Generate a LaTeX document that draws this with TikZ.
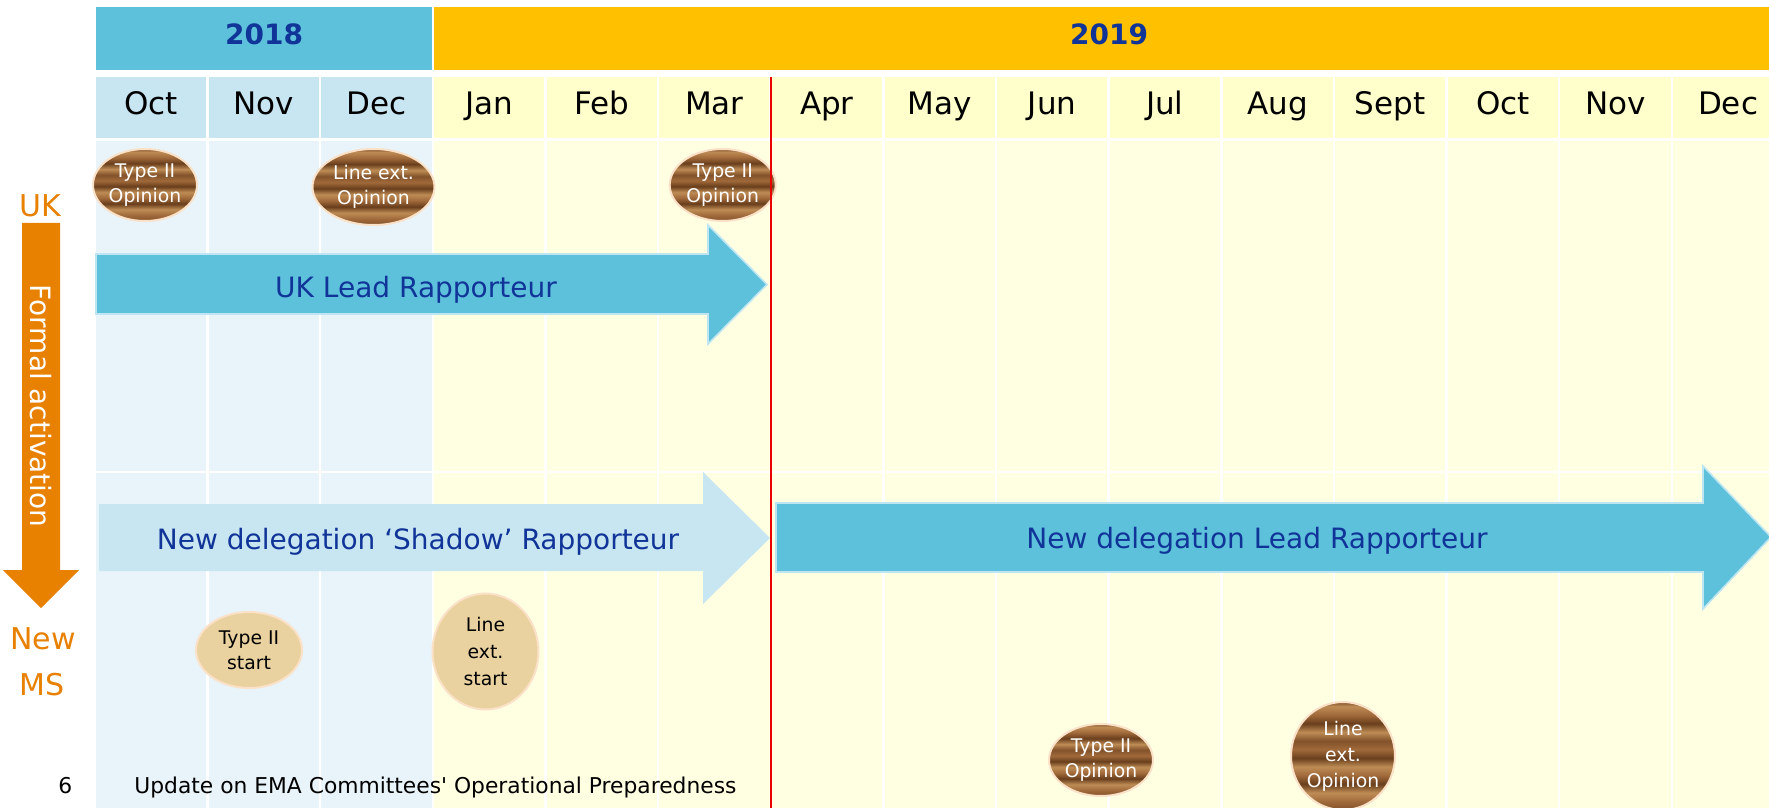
\documentclass[tikz,border=0pt]{standalone}
\usepackage{fontspec}
\setmainfont{DejaVu Sans}
\newfontfamily\footfont{DejaVu Sans}
\usetikzlibrary{shapes.geometric}
\definecolor{yearblue}{RGB}{93,193,220}
\definecolor{yearorange}{RGB}{255,192,0}
\definecolor{hdrblue}{RGB}{200,230,242}
\definecolor{hdryellow}{RGB}{255,255,204}
\definecolor{bodyblue}{RGB}{232,244,250}
\definecolor{bodyyellow}{RGB}{255,255,226}
\definecolor{textblue}{RGB}{16,52,152}
\definecolor{sideorange}{RGB}{232,128,0}
\definecolor{arrowrim}{RGB}{190,230,242}
\definecolor{peach}{RGB}{250,225,200}
\definecolor{tanfill}{RGB}{234,210,160}
\definecolor{redline}{RGB}{235,0,0}
\definecolor{wdA}{RGB}{105,62,28}
\definecolor{wdB}{RGB}{160,105,58}
\definecolor{wdC}{RGB}{190,140,85}
\definecolor{wdD}{RGB}{130,82,42}
\pgfdeclareverticalshading{woodshade}{100bp}{color(0bp)=(wdD); color(25bp)=(wdD); color(29bp)=(wdB); color(33bp)=(wdC); color(37bp)=(wdA); color(41bp)=(wdB); color(45bp)=(wdC); color(49bp)=(wdA); color(53bp)=(wdB); color(57bp)=(wdD); color(61bp)=(wdC); color(65bp)=(wdA); color(69bp)=(wdB); color(73bp)=(wdC); color(75bp)=(wdD); color(100bp)=(wdD)}
\tikzset{
  woodel/.style={ellipse, shade, shading=woodshade, draw=peach, line width=1pt, inner sep=0pt, text=white, align=center, font=\fontsize{9.4}{12.5}\selectfont},
  tanel/.style={ellipse, fill=tanfill, draw=peach, line width=1pt, inner sep=0pt, text=black, align=center, font=\fontsize{9.4}{12.5}\selectfont},
  monthlbl/.style={anchor=base, inner sep=0pt, font=\fontsize{15.5}{18}\selectfont},
  yearlbl/.style={inner sep=0pt, text=textblue, font=\bfseries\fontsize{14}{17}\selectfont},
  arrowtxt/.style={anchor=base, inner sep=0pt, text=textblue, font=\fontsize{14}{17}\selectfont},
  sidetxt/.style={anchor=base, inner sep=0pt, text=sideorange, font=\fontsize{15}{18}\selectfont},
  foottxt/.style={anchor=base west, inner sep=0pt, text=black, font=\footfont\fontsize{10.9}{13}\selectfont},
}
\begin{document}
\begin{tikzpicture}[x=0.5pt,y=-0.5pt]
\useasboundingbox (0,0) rectangle (1769,808);
\fill[white] (0,0) rectangle (1769,808);
% year bands
\fill[yearblue] (96,7) rectangle (432,70);
\fill[yearorange] (434,7) rectangle (1769,70);
\node[yearlbl] (y2018) at (264,34) {2018};
\node[yearlbl] (y2019) at (1109,34) {2019};
% body backgrounds
\fill[bodyblue] (96,141) rectangle (432,808);
\fill[bodyyellow] (434,141) rectangle (1769,808);
% month header cells and body separators
\foreach \m [count=\i from 0] in {Oct,Nov,Dec,Jan,Feb,Mar,Apr,May,Jun,Jul,Aug,Sept,Oct,Nov,Dec} {
  \pgfmathsetmacro\xl{96+112.65*\i}
  \ifnum\i<3 \def\hc{hdrblue}\else\def\hc{hdryellow}\fi
  \fill[\hc] (\xl,77) rectangle ++(110.2,61);
  \node[monthlbl] (m\i) at (\xl+55,115) {\m};
  \ifnum\i>0 \fill[white] (\xl-2.4,141) rectangle (\xl,808);\fi
}
\fill[white] (96,470.5) rectangle (1769,473);
% arrows
\fill[yearblue, draw=arrowrim, line width=0.8pt] (96,254) -- (708,254) -- (708,225) -- (767,284.5) -- (708,344) -- (708,314) -- (96,314) -- cycle;
\node[arrowtxt] (uklead) at (416,297) {UK Lead Rapporteur};
\fill[hdrblue] (99,504) -- (703,504) -- (703,472) -- (770,538) -- (703,604) -- (703,571) -- (99,571) -- cycle;
\node[arrowtxt] (shadow) at (418,549) {New delegation ‘Shadow’ Rapporteur};
\fill[yearblue, draw=arrowrim, line width=0.8pt] (776,503) -- (1703,503) -- (1703,466) -- (1771,537) -- (1703,609) -- (1703,572) -- (776,572) -- cycle;
\node[arrowtxt] (newlead) at (1257,548) {New delegation Lead Rapporteur};
% side arrow
\fill[sideorange] (22,223) -- (60,223) -- (60,570) -- (79,570) -- (41,608) -- (3,570) -- (22,570) -- cycle;
\node[inner sep=0pt, text=white, rotate=-90, font=\fontsize{14}{17}\selectfont] (formal) at (40.5,406) {Formal activation};
\node[sidetxt] (uk) at (40,217) {UK};
\node[sidetxt] (newms1) at (43,649) {New};
\node[sidetxt] (newms2) at (42,695) {MS};
% ellipses
\node[woodel, minimum width=52pt, minimum height=36pt] (e1) at (145,185) {Type II\\Opinion};
\node[woodel, minimum width=61pt, minimum height=38pt] (e2) at (373.5,187) {Line ext.\\Opinion};
\node[woodel, minimum width=53pt, minimum height=36pt] (e3) at (722.7,185) {Type II\\Opinion};
\node[woodel, minimum width=52pt, minimum height=36pt] (e4) at (1101,760) {Type II\\Opinion};
\node[woodel, minimum width=52pt, minimum height=54pt, font=\fontsize{9.4}{13}\selectfont] (e5) at (1343,756) {Line\\ext.\\Opinion};
\node[tanel, minimum width=53pt, minimum height=38pt] (t1) at (249,650) {Type II\\start};
\node[tanel, minimum width=53pt, minimum height=58pt, font=\fontsize{9.4}{13.5}\selectfont] (t2) at (485.5,651.5) {Line\\ext.\\start};
% red line
\fill[redline] (769.5,77) rectangle (771.8,808);
% footer
\node[foottxt] (pg) at (58,793) {6};
\node[foottxt] (foot) at (134,793) {Update on EMA Committees' Operational Preparedness};
\end{tikzpicture}
\end{document}
